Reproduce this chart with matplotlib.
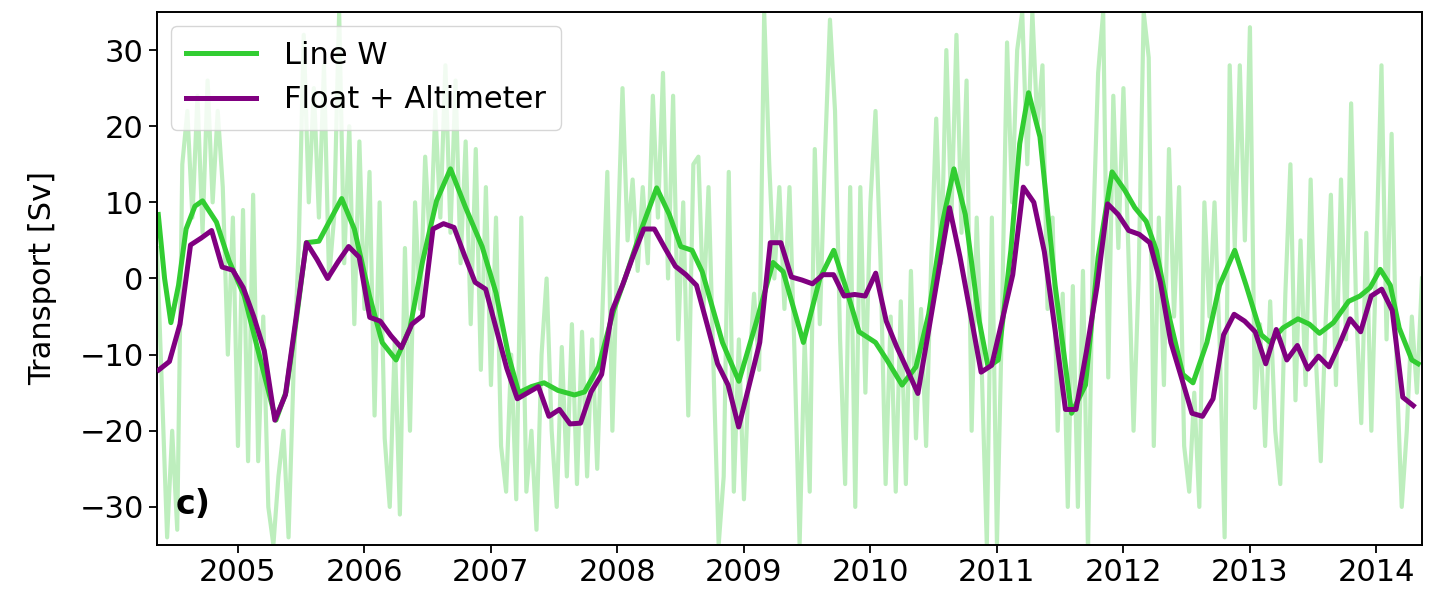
"""
Transporte en Line W: serie diaria, serie filtrada y estimación flotador + altímetro.
"""
import numpy as np
import matplotlib.pyplot as plt

# Serie cruda de Line W (paso ~0.04 años desde 2004.36)
raw_start = 2004.36
raw_step = 0.04
raw_vals = [
    4, -15, -34, -20, -33, 15, 22, 8, 24, 6, 26, 10, 22, 12, -10, 8, -22, 9, -24, 11,
    -24, -5, -30, -35, -26, -20, -34, -12, 4, 32, 10, 25, 8, 28, 0,
    8, 35, 2, 20, -6, 18, -4, 14, -18, 10, -21, -30, -8, -31, 4, -20, 10, -4, 16, 4,
    22, 8, 28, 6, 26, 2, 18, -6, 17, -12, 12, -14, 8, -22, -28, -10, -29,
    8, -28, -20, -33, -10, 0, -20, -30, -9, -26, -6, -27, -7, -26, -8, -25, -5, 14,
    -20, 4, 25, 5, 13, 1, 12, 2, 24, 8, 27, 0, 24, -8, 10, -18, 15,
    16, -4, 12, -12, -35, -26, 14, -28, -8, -29, -12, -2, -12, 35, 15, 0, 12, -4, 12,
    -10, -35, -8, -28, 17, -6, 16, 34, 22, -8, -27, 12, -30, 12, -15, 10, 22,
    2, -27, -5, -28, -3, -27, 1, -21, -4, -22, 2, 21, 2, 30, 8, 32, 6, 26, -20, 8,
    -12, -35, 8, -35, -5, 31, 10, 30, 35, 15, 35, 20, 28, -4, 8,
    -20, -2, -30, -1, -30, 1, -36, 6, 27, 35, -13, 24, 4, 25, 3, -20, 0, 35, 29, -22,
    8, -14, 17, -5, 12, -22, -28, -15, -30, 10, -5, 10, -8, -34, 28, 4,
    28, 5, 33, -17, -6, -22, -3, -20, -27, -2, 15, -16, 5, -14, 13, -10, -24, -5, 11,
    -14, 13, -8, 23, -4, -19, 6, -20, 4, 28, -8, 19, -12, -30, -20, -5, -15, 0,
]

# Serie filtrada de Line W (tiempo en años, transporte en Sv)
lw_t = [
    2004.37, 2004.42, 2004.47, 2004.53, 2004.59, 2004.66, 2004.72, 2004.83, 2004.93, 2005.05,
    2005.17, 2005.30, 2005.38, 2005.46, 2005.54, 2005.64, 2005.72, 2005.82, 2005.92, 2006.04,
    2006.14, 2006.25, 2006.36, 2006.46, 2006.57, 2006.68, 2006.80, 2006.93, 2007.04, 2007.14,
    2007.22, 2007.32, 2007.42, 2007.53, 2007.66, 2007.74, 2007.85, 2007.97, 2008.06, 2008.19,
    2008.31, 2008.41, 2008.50, 2008.59, 2008.67, 2008.83, 2008.96, 2009.10, 2009.23, 2009.31,
    2009.47, 2009.60, 2009.71, 2009.80, 2009.91, 2010.04, 2010.13, 2010.25, 2010.36, 2010.46,
    2010.57, 2010.66, 2010.75, 2010.86, 2010.93, 2011.01, 2011.11, 2011.18, 2011.25, 2011.34,
    2011.46, 2011.59, 2011.70, 2011.80, 2011.91, 2012.01, 2012.09, 2012.18, 2012.26, 2012.37,
    2012.47, 2012.55, 2012.66, 2012.76, 2012.88, 2012.97, 2013.09, 2013.16, 2013.26, 2013.38,
    2013.47, 2013.55, 2013.66, 2013.78, 2013.87, 2013.95, 2014.03, 2014.11, 2014.18, 2014.28,
    2014.33,
]
lw_vals = [
    8.4, 0.0, -5.8, -0.9, 6.5, 9.5, 10.2, 7.4, 2.3, -2.3,
    -10.2, -18.6, -14.9, -5.6, 4.7, 4.9, 7.4, 10.5, 6.5, -2.3,
    -8.4, -10.7, -6.5, 2.3, 10.2, 14.4, 9.3, 4.2, -1.9, -10.2,
    -15.0, -14.2, -13.7, -14.7, -15.3, -14.9, -11.6, -4.2, 0.0, 6.5,
    11.9, 8.4, 4.2, 3.7, 0.9, -8.4, -13.5, -5.6, 2.1, 0.9,
    -8.4, 0.0, 3.7, -0.9, -7.0, -8.4, -10.7, -14.0, -11.6, -4.7,
    7.4, 14.4, 8.4, -5.6, -11.6, -10.7, 3.7, 17.7, 24.4, 18.6,
    -0.9, -17.7, -14.0, 2.8, 14.0, 11.6, 9.3, 7.5, 3.7, -5.6,
    -12.6, -13.7, -8.4, -0.9, 3.7, -0.9, -7.4, -8.4, -6.5, -5.3,
    -6.0, -7.2, -5.8, -3.0, -2.3, -1.2, 1.2, -0.9, -6.5, -10.7,
    -11.2,
]

# Flotador + altímetro, valores mensuales desde mayo de 2004
fa_start = 2004 + 4.5 / 12
fa_vals = [
    -12.0, -10.9, -6.0, 4.4, 5.3, 6.3, 1.5, 1.1,
    -1.2, -5.0, -9.5, -18.6, -15.3, -5.3, 4.7, 2.5, 0.0, 2.2, 4.2, 2.8,
    -5.1, -5.6, -7.5, -9.1, -6.0, -4.9, 6.5, 7.2, 6.7, 3.0, -0.5, -1.4,
    -6.6, -11.8, -15.8, -15.0, -14.2, -18.1, -17.2, -19.1, -19.0, -14.9, -12.6, -4.2,
    -0.8, 3.0, 6.5, 6.5, 4.0, 1.6, 0.5, -0.9, -6.0, -11.2, -14.0, -19.5,
    -14.0, -8.4, 4.7, 4.7, 0.2, -0.2, -0.7, 0.5, 0.5, -2.3, -2.1, -2.3,
    0.7, -5.6, -9.0, -12.0, -15.1, -7.0, 1.2, 9.3, 2.8, -4.7, -12.3, -11.4,
    -5.5, 0.5, 12.0, 10.0, 3.5, -6.6, -17.2, -17.2, -9.5, -1.0, 9.8, 8.4,
    6.3, 5.8, 4.7, -0.5, -8.4, -13.0, -17.7, -18.1, -15.8, -7.4, -4.7, -5.6,
    -7.0, -11.2, -6.7, -10.7, -8.8, -11.9, -10.2, -11.6, -8.6, -5.3, -7.0, -2.3,
    -1.4, -4.2, -15.6, -16.7,
]

year_ticks = list(range(2005, 2015))

raw_t = raw_start + raw_step * np.arange(len(raw_vals))
fa_t = fa_start + np.arange(len(fa_vals)) / 12

fig = plt.figure(figsize=(14.47, 6), dpi=100)
ax = fig.add_axes([0.1085, 0.0917, 0.8742, 0.8883])

ax.plot(raw_t, raw_vals, color='limegreen', alpha=0.32, linewidth=3.0, zorder=1)
ax.plot(lw_t, lw_vals, color='limegreen', linewidth=3.6, label='Line W', zorder=2)
ax.plot(fa_t, fa_vals, color='purple', linewidth=3.6, label='Float + Altimeter', zorder=3)

ax.set_xlim(2004.36, 2014.36)
ax.set_ylim(-35, 35)
ax.set_xticks(year_ticks)
ax.set_xticklabels([str(y) for y in year_ticks])
ax.set_yticks([-30, -20, -10, 0, 10, 20, 30])
ax.tick_params(labelsize=22, length=6, width=1.3)
for sp in ax.spines.values():
    sp.set_linewidth(1.4)

ax.set_ylabel('Transport [Sv]', fontsize=22, labelpad=16)
ax.legend(loc='upper left', fontsize=22, handlelength=2.3, borderaxespad=0.45,
          handletextpad=0.9, labelspacing=0.5, borderpad=0.5)
ax.text(0.015, 0.045, 'c)', transform=ax.transAxes, fontsize=24,
        fontweight='bold', va='bottom', ha='left')

fig.savefig('out.png', dpi=100)
